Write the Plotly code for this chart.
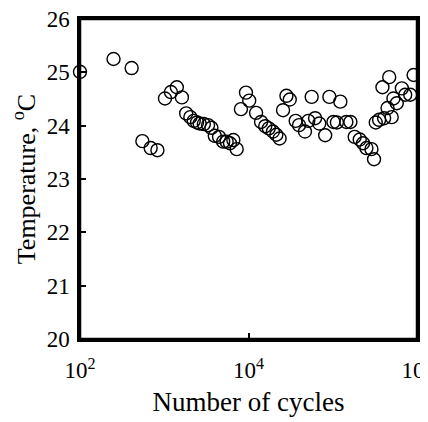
import plotly.graph_objects as go

cycles = [100, 250, 410, 550, 690, 830, 1020, 1200, 1410, 1620, 1820, 2040,
          2240, 2450, 2630, 2950, 3310, 3630, 3980, 4470, 5010, 5500, 6030,
          6610, 7240, 8130, 9330, 10200, 12300, 14100, 15800, 17400, 19500,
          21400, 23400, 25700, 28200, 30900, 36300, 39800, 46800, 51300,
          56200, 61700, 69200, 81300, 91200, 102000, 112000, 123000, 145000,
          162000, 182000, 209000, 229000, 251000, 288000, 309000, 324000,
          355000, 407000, 447000, 501000, 389000, 468000, 525000, 575000,
          661000, 724000, 832000, 912000, 1050000]
temperature = [25.01, 25.25, 25.08, 23.71, 23.58, 23.54, 24.51, 24.63, 24.72,
               24.53, 24.23, 24.16, 24.09, 24.06, 24.04, 24.03, 24.01, 23.96,
               23.81, 23.79, 23.70, 23.70, 23.67, 23.73, 23.56, 24.31, 24.62,
               24.47, 24.24, 24.07, 23.99, 23.95, 23.89, 23.83, 23.76, 24.29,
               24.56, 24.49, 24.09, 24.01, 23.89, 24.09, 24.54, 24.14, 24.04,
               23.82, 24.54, 24.07, 24.06, 24.45, 24.07, 24.07, 23.79, 23.74,
               23.67, 23.58, 23.56, 23.37, 24.06, 24.11, 24.14, 24.33, 24.16,
               24.72, 24.91, 24.51, 24.42, 24.70, 24.58, 24.58, 24.95, 24.54]

x_tickvals = [1e2, 1e4, 1e6]
x_ticktext = ["10<sup>2</sup>", "10<sup>4</sup>", "10<sup>6</sup>"]
y_tickvals = [20, 21, 22, 23, 24, 25, 26]

FONT = "Liberation Serif, Times New Roman, serif"

fig = go.Figure()
fig.add_trace(go.Scatter(
    x=cycles, y=temperature, mode="markers",
    marker=dict(symbol="circle-open", size=13, color="black",
                line=dict(width=1.4, color="black")),
    cliponaxis=False, showlegend=False,
))

# page body has an 8px default margin, so the figure is sized/offset to compensate
fig.update_layout(
    width=420, height=414,
    margin=dict(l=72, r=11, t=11, b=83),
    paper_bgcolor="white", plot_bgcolor="white",
    font=dict(family=FONT, color="black", size=23),
    shapes=[dict(type="rect", xref="x domain", yref="y domain",
                 x0=0, x1=1, y0=0, y1=1,
                 line=dict(color="black", width=2.5), layer="above")],
)
fig.update_xaxes(
    type="log", range=[2, 6], automargin=False,
    tickvals=x_tickvals, ticktext=x_ticktext,
    ticks="inside", ticklen=6, tickwidth=2, tickcolor="black",
    showline=True, linecolor="black", linewidth=2.5, mirror=True,
    showgrid=False, zeroline=False,
    tickfont=dict(size=23, family=FONT),
    ticklabelstandoff=9, ticklabeloverflow="allow",
    title=dict(text="Number of cycles", font=dict(size=27, family=FONT), standoff=10),
)
fig.update_yaxes(
    range=[20, 26], automargin=False, tickvals=y_tickvals,
    ticks="inside", ticklen=6, tickwidth=2, tickcolor="black",
    showline=True, linecolor="black", linewidth=2.5, mirror=True,
    showgrid=False, zeroline=False,
    tickfont=dict(size=23, family=FONT),
    ticklabelstandoff=3, ticklabeloverflow="allow",
    title=dict(text="Temperature, <sup>o</sup>C", font=dict(size=26, family=FONT), standoff=5),
)

fig.write_html("out.html")
